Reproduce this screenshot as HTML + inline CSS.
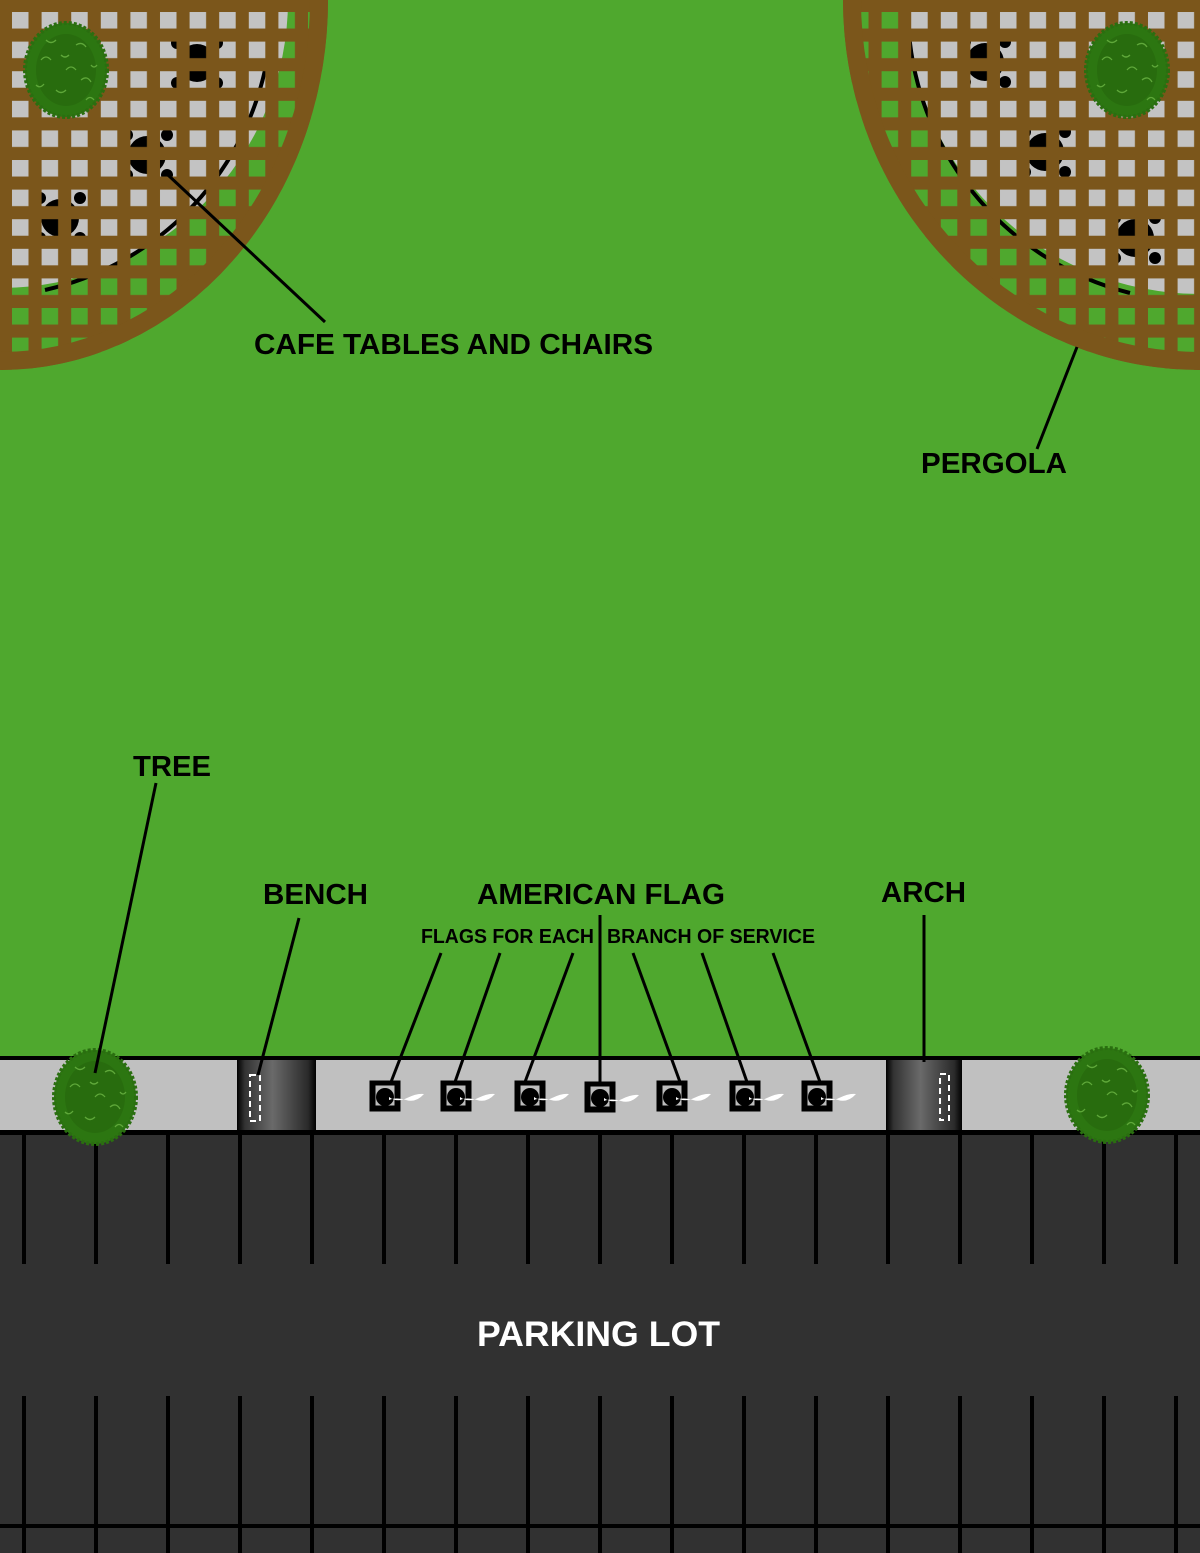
<!DOCTYPE html>
<html><head><meta charset="utf-8"><style>html,body{margin:0;padding:0;background:#4fa82e}svg{display:block}text{font-family:"Liberation Sans",sans-serif;font-weight:bold}</style></head>
<body>
<svg width="1200" height="1553" viewBox="0 0 1200 1553" xmlns="http://www.w3.org/2000/svg">
<defs>
<pattern id="gl" patternUnits="userSpaceOnUse" x="5.6" y="5.6" width="29.6" height="29.6">
<path fill-rule="evenodd" fill="#7b561b" d="M0 0H29.6V29.6H0Z M6.4 6.4H22.9V22.9H6.4Z"/>
</pattern>
<pattern id="gr" patternUnits="userSpaceOnUse" x="845.6" y="5.6" width="29.6" height="29.6">
<path fill-rule="evenodd" fill="#7b561b" d="M0 0H29.6V29.6H0Z M6.4 6.4H22.9V22.9H6.4Z"/>
</pattern>
<linearGradient id="bg" x1="0" x2="1">
<stop offset="0" stop-color="#000"/><stop offset="0.1" stop-color="#333"/><stop offset="0.45" stop-color="#6a6a6a"/><stop offset="0.9" stop-color="#2a2a2a"/><stop offset="1" stop-color="#000"/>
</linearGradient>
<g id="tbl"><circle r="19" fill="#000"/><circle cx="-20" cy="-20" r="6" fill="#000"/><circle cx="20" cy="-20" r="6" fill="#000"/><circle cx="-20" cy="20" r="6" fill="#000"/><circle cx="20" cy="20" r="6" fill="#000"/></g>
<g id="tree"><ellipse rx="41" ry="47" fill="#2c7611" stroke="#2a6e10" stroke-width="4" stroke-dasharray="3 2"/><ellipse rx="30" ry="36" fill="#286c0e"/>
<path d="M-25 -10q5 -6 10 0M10 -25q6 -4 10 2M-10 20q5 5 10 0M15 10q6 -5 10 2M-20 -30q5 5 10 0M0 0q5 -6 10 0M-30 15q4 4 8 -1M20 30q4 -5 8 0M-5 -15q4 4 8 0M25 -5q3 4 6 0" stroke="#5fa83a" stroke-width="1.3" fill="none"/></g>
<g id="flag"><rect x="-15.5" y="-15.5" width="31" height="31" fill="#000"/><rect x="-9.5" y="-10.5" width="19" height="20" fill="#bdbdbd"/><circle cx="0" cy="1" r="9" fill="#000"/><path d="M4 1q8 6 18 1t17 -4q-8 9 -18 6t-17 0z" fill="#fff"/></g>
</defs>
<rect width="1200" height="1553" fill="#4fa82e"/>
<!-- left patio -->
<circle cx="0" cy="0" r="288" fill="#c3c3c3"/>
<path d="M265 70 A290 290 0 0 1 45 290" stroke="#000" stroke-width="4" fill="none"/>
<use href="#tbl" x="197" y="63"/><use href="#tbl" x="147" y="155"/><use href="#tbl" x="60" y="218"/>
<ellipse cx="0" cy="0" rx="328" ry="370" fill="url(#gl)"/>
<ellipse cx="0" cy="0" rx="319" ry="361" fill="none" stroke="#7b561b" stroke-width="18"/>
<use href="#tree" x="66" y="70"/>
<!-- right patio -->
<circle cx="1200" cy="0" r="294" fill="#c3c3c3"/>
<path d="M908 0 A294 294 0 0 0 1130 293" stroke="#000" stroke-width="4" fill="none"/>
<use href="#tbl" x="985" y="62"/><use href="#tbl" x="1045" y="152"/><use href="#tbl" x="1135" y="238"/>
<ellipse cx="1200" cy="0" rx="357" ry="370" fill="url(#gr)"/>
<ellipse cx="1200" cy="0" rx="348" ry="361" fill="none" stroke="#7b561b" stroke-width="18"/>
<use href="#tree" x="1127" y="70"/>
<!-- strip -->
<rect x="0" y="1056" width="1200" height="4" fill="#000"/>
<rect x="0" y="1060" width="1200" height="70" fill="#c0c0c0"/>
<rect x="0" y="1130" width="1200" height="423" fill="#313131"/>
<rect x="0" y="1130" width="1200" height="5" fill="#000"/>
<g fill="#000">
<rect x="22" y="1135" width="4" height="129"/><rect x="94" y="1135" width="4" height="129"/><rect x="166" y="1135" width="4" height="129"/><rect x="238" y="1135" width="4" height="129"/><rect x="310" y="1135" width="4" height="129"/><rect x="382" y="1135" width="4" height="129"/><rect x="454" y="1135" width="4" height="129"/><rect x="526" y="1135" width="4" height="129"/><rect x="598" y="1135" width="4" height="129"/><rect x="670" y="1135" width="4" height="129"/><rect x="742" y="1135" width="4" height="129"/><rect x="814" y="1135" width="4" height="129"/><rect x="886" y="1135" width="4" height="129"/><rect x="958" y="1135" width="4" height="129"/><rect x="1030" y="1135" width="4" height="129"/><rect x="1102" y="1135" width="4" height="129"/><rect x="1174" y="1135" width="4" height="129"/>
<rect x="22" y="1396" width="4" height="157"/><rect x="94" y="1396" width="4" height="157"/><rect x="166" y="1396" width="4" height="157"/><rect x="238" y="1396" width="4" height="157"/><rect x="310" y="1396" width="4" height="157"/><rect x="382" y="1396" width="4" height="157"/><rect x="454" y="1396" width="4" height="157"/><rect x="526" y="1396" width="4" height="157"/><rect x="598" y="1396" width="4" height="157"/><rect x="670" y="1396" width="4" height="157"/><rect x="742" y="1396" width="4" height="157"/><rect x="814" y="1396" width="4" height="157"/><rect x="886" y="1396" width="4" height="157"/><rect x="958" y="1396" width="4" height="157"/><rect x="1030" y="1396" width="4" height="157"/><rect x="1102" y="1396" width="4" height="157"/><rect x="1174" y="1396" width="4" height="157"/>
<rect x="0" y="1524" width="1200" height="4"/>
</g>
<!-- bench / arch -->
<rect x="237" y="1060" width="79" height="70" fill="url(#bg)"/>
<rect x="250" y="1075" width="10" height="46" fill="none" stroke="#fff" stroke-width="2" stroke-dasharray="6 4"/>
<rect x="886" y="1060" width="76" height="70" fill="url(#bg)"/>
<rect x="940" y="1074" width="9" height="46" fill="none" stroke="#fff" stroke-width="2" stroke-dasharray="6 4"/>
<use href="#flag" x="385" y="1096"/><use href="#flag" x="456" y="1096"/><use href="#flag" x="530" y="1096"/><use href="#flag" x="600" y="1097"/><use href="#flag" x="672" y="1096"/><use href="#flag" x="745" y="1096"/><use href="#flag" x="817" y="1096"/>
<use href="#tree" x="95" y="1097"/><use href="#tree" x="1107" y="1095"/>
<!-- leaders -->
<g stroke="#000" stroke-width="3" fill="none">
<path d="M168 175L325 322"/><path d="M1077 347L1037 449"/><path d="M156 783L95 1073"/><path d="M299 918L258 1075"/>
<path d="M600 915V1085"/><path d="M924 915V1062"/>
<path d="M441 953L391 1082"/><path d="M500 953L455 1082"/><path d="M573 953L525 1082"/><path d="M633 953L680 1082"/><path d="M702 953L747 1082"/><path d="M773 953L820 1082"/>
</g>
<g fill="#000" font-size="29" lengthAdjust="spacingAndGlyphs">
<text x="254" y="354" textLength="399" lengthAdjust="spacingAndGlyphs">CAFE TABLES AND CHAIRS</text>
<text x="921" y="473" textLength="146" lengthAdjust="spacingAndGlyphs">PERGOLA</text>
<text x="133" y="776" textLength="78" lengthAdjust="spacingAndGlyphs">TREE</text>
<text x="263" y="904" textLength="105" lengthAdjust="spacingAndGlyphs">BENCH</text>
<text x="477" y="904" textLength="248" lengthAdjust="spacingAndGlyphs">AMERICAN FLAG</text>
<text x="881" y="902" textLength="85" lengthAdjust="spacingAndGlyphs">ARCH</text>
<text x="421" y="943" font-size="20" textLength="173" lengthAdjust="spacingAndGlyphs">FLAGS FOR EACH</text>
<text x="607" y="943" font-size="20" textLength="208" lengthAdjust="spacingAndGlyphs">BRANCH OF SERVICE</text>
</g>
<text x="477" y="1346" fill="#fff" font-size="35" textLength="243" lengthAdjust="spacingAndGlyphs">PARKING LOT</text>
</svg>
</body></html>
